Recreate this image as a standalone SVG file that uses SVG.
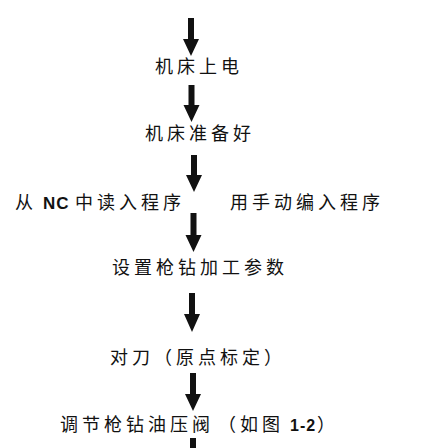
<svg xmlns="http://www.w3.org/2000/svg" width="437" height="448" viewBox="0 0 437 448">
<style>
.t{font-family:"Noto Sans CJK SC","Noto Sans CJK JP",sans-serif;font-size:18px;fill:#111;letter-spacing:4px}
.l{font-family:"Liberation Sans",sans-serif;font-weight:bold;letter-spacing:1px}
.a{fill:#111}
</style>
<rect width="437" height="448" fill="#fff"/>
<g id="connectors">
<polygon class="a" points="188,18 194,18 194,39 199,39 191,56 183,39 188,39"/>
<polygon class="a" points="188.5,85 194.5,85 194.5,105 199.5,105 191.5,122 183.5,105 188.5,105"/>
<polygon class="a" points="191,155 197,155 197,175 202,175 194,192 186,175 191,175"/>
<polygon class="a" points="190.5,213 196.5,213 196.5,235 201.5,235 193.5,252 185.5,235 190.5,235"/>
<polygon class="a" points="189,293 195,293 195,314 200,314 192,332 184,314 189,314"/>
<polygon class="a" points="190,373 196,373 196,394 201,394 193,411 185,394 190,394"/>
<rect class="a" x="190" y="438" width="6" height="10"/>
</g>
<g id="n1"><text class="t" x="155" y="73">机床上电</text></g>
<g id="n2"><text class="t" x="145" y="140">机床准备好</text></g>
<g id="n3a"><text class="t" y="209"><tspan x="15">从</tspan><tspan class="l" x="43" font-size="17">NC</tspan><tspan x="75">中读入程序</tspan></text></g>
<g id="n3b"><text class="t" x="230" y="209">用手动编入程序</text></g>
<g id="n4"><text class="t" x="112" y="274">设置枪钻加工参数</text></g>
<g id="n5"><text class="t" y="364"><tspan x="110">对刀</tspan><tspan x="154">（原点标定）</tspan></text></g>
<g id="n6"><text class="t" y="431"><tspan x="60">调节枪钻油压阀</tspan><tspan x="218">（如图</tspan><tspan class="l" x="290" font-size="16" font-weight="normal" letter-spacing="0">1-2</tspan><tspan x="317">）</tspan></text></g>
</svg>
